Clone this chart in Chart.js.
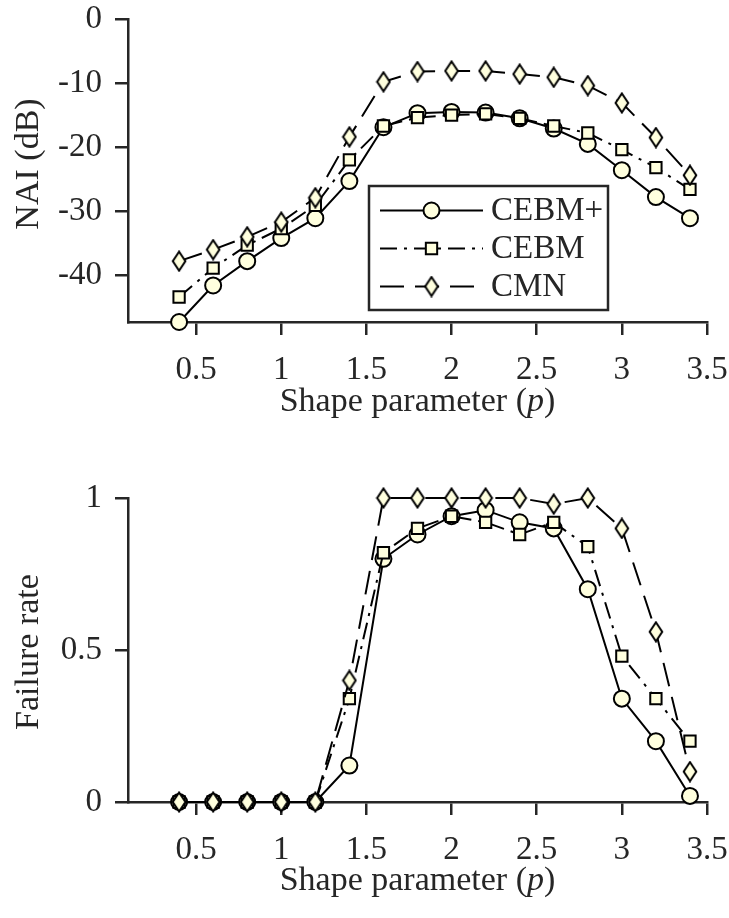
<!DOCTYPE html>
<html>
<head>
<meta charset="utf-8">
<script src="https://cdn.jsdelivr.net/npm/chart.js@4.4.1/dist/chart.umd.min.js"></script>
<style>
  html, body { margin: 0; padding: 0; background: #fff; }
  #wrap { position: relative; width: 729px; height: 918px; }
  .panel { position: absolute; left: 0; width: 729px; height: 459px; }
</style>
</head>
<body>
<div id="wrap">
  <div class="panel" style="top:0"><canvas id="naiChart"></canvas></div>
  <div class="panel" style="top:459px"><canvas id="failChart"></canvas></div>
</div>
<script>
// Data
const shapeP = [0.4, 0.6, 0.8, 1.0, 1.2, 1.4, 1.6, 1.8, 2.0, 2.2, 2.4, 2.6, 2.8, 3.0, 3.2, 3.4];

const naiCebmPlus = [-47.3, -41.6, -37.8, -34.2, -31.1, -25.3, -16.9, -14.7, -14.5, -14.6, -15.5, -17.1, -19.5, -23.6, -27.8, -31.1];
const naiCebm     = [-43.4, -38.9, -35.3, -32.7, -29.1, -22.0, -16.7, -15.4, -15.0, -14.8, -15.5, -16.7, -17.8, -20.4, -23.2, -26.6];
const naiCmn      = [-37.8, -36.0, -34.0, -31.7, -27.9, -18.4, -9.8, -8.2, -8.1, -8.1, -8.6, -9.1, -10.4, -13.1, -18.5, -24.4];

const failCebmPlus = [0, 0, 0, 0, 0, 0.12, 0.80, 0.88, 0.94, 0.96, 0.92, 0.90, 0.70, 0.34, 0.20, 0.02];
const failCebm     = [0, 0, 0, 0, 0, 0.34, 0.82, 0.90, 0.94, 0.92, 0.88, 0.92, 0.84, 0.48, 0.34, 0.20];
const failCmn      = [0, 0, 0, 0, 0, 0.40, 1.00, 1.00, 1.00, 1.00, 1.00, 0.98, 1.00, 0.90, 0.56, 0.10];

const seriesNames = ['CEBM+', 'CEBM', 'CMN'];
const xTicks = [0.5, 1, 1.5, 2, 2.5, 3, 3.5];
const naiTicks = [0, -10, -20, -30, -40];
const failTicks = [0, 0.5, 1];

// Styling
const FONT = 'Liberation Serif, Times New Roman, serif';
const FONT_SIZE = 33;
const TITLE_SIZE = 34;
const AXIS_COLOR = '#262626';
const MARKER_FILL = 'rgb(255,255,222)';

// tall diamond marker as a small canvas
function makeDiamond() {
    const c = document.createElement('canvas');
    c.width = 16; c.height = 22;
    const g = c.getContext('2d');
    g.beginPath();
    g.moveTo(8, 1.5);
    g.lineTo(14.3, 11);
    g.lineTo(8, 20.5);
    g.lineTo(1.7, 11);
    g.closePath();
    g.fillStyle = MARKER_FILL;
    g.fill();
    g.lineWidth = 2;
    g.strokeStyle = '#000';
    g.stroke();
    return c;
}
const diamond = makeDiamond();

const styles = [
    { pointStyle: 'circle', borderDash: [], order: 3 },
    { pointStyle: 'rect', borderDash: [17, 7, 3, 7], order: 2 },
    { pointStyle: diamond, borderDash: [24, 11], order: 1 }
];

function makeDatasets(seriesList) {
    return seriesList.map((vals, i) => ({
        label: seriesNames[i],
        data: shapeP.map((p, j) => ({ x: p, y: vals[j] })),
        borderColor: '#000',
        borderWidth: 2,
        borderDash: styles[i].borderDash,
        pointStyle: styles[i].pointStyle,
        pointRadius: 8,
        pointBorderWidth: 2,
        pointBorderColor: '#000',
        pointBackgroundColor: MARKER_FILL,
        tension: 0,
        clip: false,
        order: styles[i].order
    }));
}

// axis titles (x title has italic p)
const axisTitles = {
    id: 'axisTitles',
    afterDraw(chart, args, opts) {
        const { ctx, chartArea } = chart;
        ctx.save();
        ctx.fillStyle = AXIS_COLOR;
        ctx.textBaseline = 'alphabetic';
        ctx.textAlign = 'left';
        const pieces = [['Shape parameter (', ''], ['p', 'italic '], [')', '']];
        let total = 0;
        pieces.forEach(p => {
            ctx.font = p[1] + TITLE_SIZE + 'px ' + FONT;
            total += ctx.measureText(p[0]).width;
        });
        let x = (chartArea.left + chartArea.right) / 2 - total / 2;
        pieces.forEach(p => {
            ctx.font = p[1] + TITLE_SIZE + 'px ' + FONT;
            ctx.fillText(p[0], x, opts.xTitleY);
            x += ctx.measureText(p[0]).width;
        });
        ctx.font = TITLE_SIZE + 'px ' + FONT;
        ctx.translate(opts.yTitleX, opts.yTitleY);
        ctx.rotate(-Math.PI / 2);
        ctx.textAlign = 'center';
        ctx.textBaseline = 'middle';
        ctx.fillText(opts.yTitle, 0, 0);
        ctx.restore();
    }
};

// legend: line sample with marker in the middle
function drawMarker(ctx, style, x, y) {
    if (style === 'circle') {
        ctx.beginPath();
        ctx.arc(x, y, 8, 0, Math.PI * 2);
        ctx.fillStyle = MARKER_FILL;
        ctx.fill();
        ctx.lineWidth = 2;
        ctx.strokeStyle = '#000';
        ctx.stroke();
    } else if (style === 'rect') {
        const s = 8 * Math.SQRT1_2;
        ctx.beginPath();
        ctx.rect(x - s, y - s, 2 * s, 2 * s);
        ctx.fillStyle = MARKER_FILL;
        ctx.fill();
        ctx.lineWidth = 2;
        ctx.strokeStyle = '#000';
        ctx.stroke();
    } else {
        ctx.drawImage(style, x - style.width / 2, y - style.height / 2);
    }
}

const boxLegend = {
    id: 'boxLegend',
    afterDraw(chart, args, opts) {
        const ctx = chart.ctx;
        const b = opts.box;
        ctx.save();
        ctx.fillStyle = '#fff';
        ctx.fillRect(b.x, b.y, b.w, b.h);
        ctx.lineWidth = 2.5;
        ctx.strokeStyle = AXIS_COLOR;
        ctx.strokeRect(b.x, b.y, b.w, b.h);
        chart.data.datasets.forEach((ds, i) => {
            const y = opts.rowY[i];
            ctx.beginPath();
            ctx.setLineDash(ds.borderDash);
            ctx.lineWidth = 2;
            ctx.strokeStyle = '#000';
            ctx.moveTo(opts.lineX0, y);
            ctx.lineTo(opts.lineX1, y);
            ctx.stroke();
            ctx.setLineDash([]);
            drawMarker(ctx, ds.pointStyle, (opts.lineX0 + opts.lineX1) / 2, y);
            ctx.fillStyle = AXIS_COLOR;
            ctx.font = FONT_SIZE + 'px ' + FONT;
            ctx.textBaseline = 'middle';
            ctx.textAlign = 'left';
            ctx.fillText(ds.label, opts.textX, y + 1);
        });
        ctx.restore();
    }
};

function axisOptions(tickVals, min, max, isX, fitSize, pad) {
    return {
        type: 'linear',
        min: min,
        max: max,
        afterBuildTicks: s => { s.ticks = tickVals.map(v => ({ value: v })); },
        afterFit: s => {
            if (isX) s.height = fitSize; else s.width = fitSize;
            s.paddingLeft = 0; s.paddingRight = 0;
            s.paddingTop = 0; s.paddingBottom = 0;
        },
        ticks: {
            color: AXIS_COLOR,
            font: { family: FONT, size: FONT_SIZE, lineHeight: 1 },
            padding: pad,
            maxRotation: 0,
            autoSkip: false,
            callback: v => String(v)
        },
        grid: {
            drawOnChartArea: false,
            drawTicks: true,
            tickLength: 13,
            tickColor: AXIS_COLOR,
            tickWidth: 2.5,
            lineWidth: 2.5,
            color: AXIS_COLOR
        },
        border: { display: true, color: AXIS_COLOR, width: 2.5 }
    };
}

function baseOptions(padTop, titleOpts, extraPlugins) {
    return {
        responsive: true,
        maintainAspectRatio: false,
        animation: false,
        devicePixelRatio: 1,
        layout: { padding: { top: padTop, right: 22, left: 0, bottom: 0 } },
        scales: {},
        plugins: Object.assign({
            legend: { display: false },
            tooltip: { enabled: false },
            axisTitles: titleOpts
        }, extraPlugins)
    };
}

// Top chart: NAI
const naiOpts = baseOptions(19,
    { xTitleY: 411, yTitle: 'NAI (dB)', yTitleX: 29, yTitleY: 164 },
    { boxLegend: { box: { x: 369, y: 186, w: 239, h: 124 }, rowY: [210.5, 248.5, 286.5], lineX0: 380, lineX1: 483, textX: 491 } });
naiOpts.scales.x = axisOptions(xTicks, 0.1, 3.5, true, 137, 18.5);
naiOpts.scales.y = axisOptions(naiTicks, -47.3, 0, false, 128, 13);

new Chart(document.getElementById('naiChart'), {
    type: 'line',
    data: { datasets: makeDatasets([naiCebmPlus, naiCebm, naiCmn]) },
    options: naiOpts,
    plugins: [axisTitles, boxLegend]
});

// Bottom chart: failure rate
const failOpts = baseOptions(39,
    { xTitleY: 431, yTitle: 'Failure rate', yTitleX: 29, yTitleY: 193 }, {});
failOpts.scales.x = axisOptions(xTicks, 0.1, 3.5, true, 116, 18.5);
failOpts.scales.y = axisOptions(failTicks, 0, 1, false, 128, 13);

new Chart(document.getElementById('failChart'), {
    type: 'line',
    data: { datasets: makeDatasets([failCebmPlus, failCebm, failCmn]) },
    options: failOpts,
    plugins: [axisTitles]
});
</script>
</body>
</html>
